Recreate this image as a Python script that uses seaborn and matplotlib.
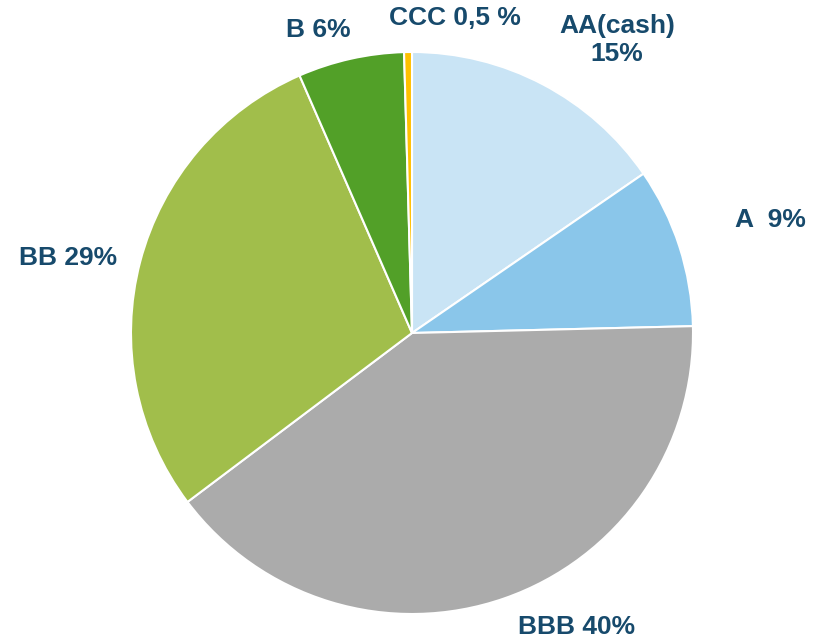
import matplotlib
matplotlib.use("Agg")
import matplotlib.pyplot as plt
import seaborn as sns

categories = ["AA(cash)", "A", "BBB", "BB", "B", "CCC"]
values = [15.4, 9.2, 40.1, 28.7, 6.1, 0.45]
labels = ["AA(cash)\n15%", "A  9%", "BBB 40%", "BB 29%", "B 6%", "CCC 0,5 %"]
colors = ["#C9E4F5", "#8AC6EA", "#ABABAB", "#A1BE4B", "#52A028", "#FFC000"]

sns.set_theme(style="white")
plt.rcParams['font.family'] = ['Liberation Sans', 'DejaVu Sans']

W, H = 823, 642
fig = plt.figure(figsize=(W / 100, H / 100), dpi=100)
ax = fig.add_axes([0, 0, 1, 1])

cx, cy, r = 412, H - 333, 281
ax.pie(values, colors=sns.color_palette(colors), startangle=90, counterclock=False,
       center=(cx, cy), radius=r,
       wedgeprops=dict(edgecolor="white", linewidth=1.5))
ax.set_xlim(0, W)
ax.set_ylim(0, H)
ax.set_aspect("auto")
ax.axis("off")

txt = dict(color="#174A6C", fontsize=19, fontweight="bold", ha="center", va="center",
           linespacing=1.2)
label_pos = [(617, 40), (770, 220), (577, 627), (68, 258), (318, 30), (455, 18)]
for lab, (px, py) in zip(labels, label_pos):
    ax.text(px, H - py, lab, **txt)

fig.savefig("out.png", dpi=100, facecolor="white")
